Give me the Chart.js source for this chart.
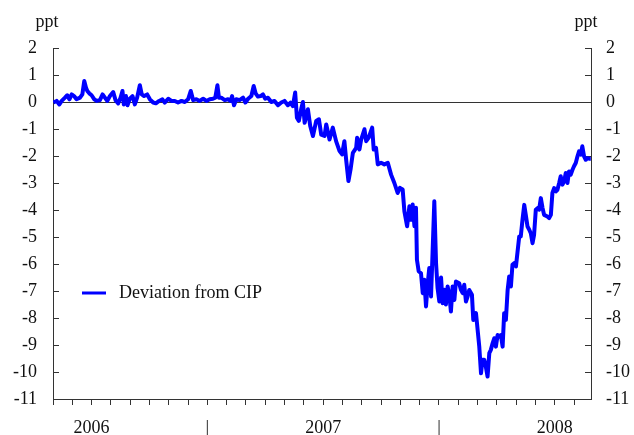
<!DOCTYPE html>
<html>
<head>
<meta charset="utf-8">
<script src="https://cdn.jsdelivr.net/npm/chart.js@4.4.1/dist/chart.umd.min.js"></script>
<style>
  html, body { margin: 0; padding: 0; background: #fff; }
  #wrap { width: 634px; height: 435px; }
</style>
</head>
<body>
<div id="wrap"><canvas id="chart" width="634" height="435"></canvas></div>
<script>
// x = months since Jan 2006 (0 = 1 Jan 2006)
const months = [
  4.02, 4.19, 4.33, 4.45, 4.62, 4.74, 4.85, 4.97, 5.09, 5.22, 5.40, 5.52, 5.62, 5.71, 5.78,
  5.88, 6.00, 6.14, 6.26, 6.43, 6.57, 6.69, 6.81, 6.95, 7.12, 7.24, 7.38, 7.50, 7.60, 7.67,
  7.78, 7.86, 7.98, 8.12, 8.24, 8.36, 8.50, 8.60, 8.72, 8.88, 9.02, 9.19, 9.33, 9.50, 9.67,
  9.79, 9.97, 10.14, 10.31, 10.48, 10.66, 10.83, 11.00, 11.14, 11.26, 11.43, 11.60, 11.78,
  11.95, 12.12, 12.29, 12.41, 12.52, 12.60, 12.72, 12.90, 13.07, 13.21, 13.28, 13.38, 13.50,
  13.67, 13.85, 13.97, 14.11, 14.28, 14.40, 14.50, 14.62, 14.76, 14.88, 15.00, 15.14, 15.31,
  15.48, 15.66, 15.83, 16.00, 16.17, 16.31, 16.43, 16.55,
  16.64, 16.74, 16.86, 16.95, 17.04, 17.21, 17.33, 17.47, 17.64, 17.78, 17.90,
  18.07, 18.16, 18.33, 18.50, 18.67, 18.85, 18.98, 19.10, 19.19, 19.31, 19.42, 19.54, 19.71,
  19.76, 19.88, 19.97, 20.14, 20.23, 20.36, 20.54, 20.62, 20.74, 20.83, 21.00, 21.17, 21.35,
  21.52, 21.69, 21.86, 21.98, 22.12, 22.21, 22.35, 22.47, 22.55, 22.64, 22.73, 22.81, 22.86,
  22.95, 23.07, 23.16, 23.24, 23.33, 23.42, 23.50, 23.59, 23.67, 23.76,
  23.85, 23.93, 24.02, 24.11, 24.19, 24.28, 24.36, 24.45, 24.54, 24.62, 24.71, 24.80, 24.88,
  25.05, 25.14, 25.23, 25.31, 25.40, 25.49, 25.57, 25.71, 25.78, 25.92, 26.09, 26.18, 26.26,
  26.35, 26.43, 26.52, 26.61, 26.69, 26.78, 26.87, 26.95, 27.04, 27.12, 27.21, 27.30, 27.38,
  27.47, 27.56, 27.64, 27.73, 27.81, 27.90, 27.99, 28.16, 28.24, 28.33, 28.42, 28.50, 28.59,
  28.68, 28.76, 28.85, 28.93, 29.02, 29.11, 29.19, 29.28, 29.37, 29.45, 29.62, 29.71, 29.80,
  29.88, 29.97, 30.06, 30.14, 30.23, 30.31, 30.40, 30.49, 30.57, 30.66, 30.74, 30.83, 30.92,
  31.00, 31.09, 31.18, 31.26, 31.35, 31.43, 31.52, 31.61, 31.69, 31.78, 31.87
];

const deviation = [
  -0.02, 0.04, -0.09, 0.04, 0.16, 0.25, 0.1, 0.28, 0.22, 0.1, 0.16, 0.28, 0.78, 0.53, 0.41,
  0.32, 0.25, 0.1, 0.04, 0.07, 0.28, 0.16, 0.04, 0.22, 0.37, 0.07, -0.05, 0.16, 0.41, -0.09,
  0.22, -0.12, 0.12, 0.22, -0.09, 0.16, 0.62, 0.28, 0.22, 0.28, 0.1, -0.02, -0.05, 0.04, 0.1,
  -0.02, 0.12, 0.04, 0.04, -0.02, 0.04, 0.0, 0.1, 0.41, 0.07, 0.1, 0.04, 0.12,
  0.04, 0.1, 0.12, 0.16, 0.62, 0.16, 0.16, 0.07, 0.1, 0.04, 0.22, -0.12, 0.1,
  0.07, 0.16, -0.02, 0.12, 0.22, 0.59, 0.32, 0.2, 0.22, 0.28, 0.12, 0.16, 0.0,
  0.04, -0.12, -0.02, 0.04, -0.12, -0.02, -0.15, 0.35,
  -0.58, -0.7, -0.27, 0.0, -0.77, -0.27, -0.89, -1.26, -0.7, -0.64, -1.21,
  -1.26, -0.83, -1.39, -0.95, -1.45, -1.82, -1.94, -1.45, -2.13, -2.93, -2.5, -1.88, -1.7,
  -1.32, -1.76, -1.39, -1.01, -1.45, -1.32, -0.95, -1.76, -1.7, -2.31, -2.25, -2.31, -2.25,
  -2.69, -3.0, -3.37, -3.18, -3.24, -4.05, -4.6, -3.86, -4.36, -3.8, -4.6, -3.92, -5.84,
  -6.27, -6.34, -7.08, -6.58, -7.57, -6.71, -6.15, -7.2, -5.59, -3.68,
  -5.97, -6.9, -7.39, -6.5, -7.45, -6.95, -7.5, -6.83, -7.15, -7.76, -6.83, -7.33, -6.65,
  -6.71, -6.96, -7.08, -6.77, -7.39, -7.2, -6.96, -7.14, -8.07, -7.82, -9.06, -10.05, -9.55,
  -9.55, -9.8, -10.17, -9.3, -9.18, -8.94, -8.75, -9.06, -8.63, -8.69, -8.63, -9.06, -7.82,
  -8.07, -6.96, -6.46, -6.83, -6.03, -5.97, -6.09, -4.98, -4.98, -4.36, -3.81, -4.18, -4.61,
  -4.73, -4.86, -5.23, -4.92, -3.99, -3.93, -3.99, -3.56, -3.93, -4.18, -4.24, -4.3, -4.18,
  -3.37, -3.19, -3.31, -3.25, -3.0, -2.75, -3.06, -2.94, -2.63, -3.0, -2.57, -2.69, -2.51,
  -2.38, -2.26, -2.01, -1.83, -1.95, -1.64, -2.01, -2.14, -2.08, -2.1, -2.1
];

const yearLabels = ['2006', '2007', '2008'];
const yearMidMonths = [6, 18, 30];
const yearStartMonths = [12, 24];
const xMin = 4, xMax = 31.88;
const yMin = -11, yMax = 2;

const FONT = "'Liberation Serif', 'Times New Roman', serif";
const INK = '#111';
const AXIS = '#333';

// zero line + inward ticks on both value axes, under the series
const frame = {
  id: 'frame',
  beforeDatasetsDraw(chart) {
    const { ctx, chartArea, scales } = chart;
    const y = scales.y;
    ctx.save();
    ctx.strokeStyle = AXIS;
    ctx.lineWidth = 1;
    const z = Math.round(y.getPixelForValue(0)) + 0.5;
    ctx.beginPath();
    ctx.moveTo(chartArea.left, z);
    ctx.lineTo(chartArea.right, z);
    y.ticks.forEach(t => {
      const py = Math.round(y.getPixelForValue(t.value)) + 0.5;
      ctx.moveTo(chartArea.left, py);
      ctx.lineTo(chartArea.left + 6, py);
      ctx.moveTo(chartArea.right, py);
      ctx.lineTo(chartArea.right - 6, py);
    });
    ctx.stroke();
    ctx.restore();
  },
  afterDraw(chart) {
    const { ctx, chartArea } = chart;
    ctx.save();
    ctx.fillStyle = INK;
    ctx.font = '18px ' + FONT;
    ctx.textAlign = 'center';
    ctx.textBaseline = 'middle';
    ctx.fillText('ppt', chartArea.left - 6, 22);
    ctx.fillText('ppt', chartArea.right - 5, 22);

    // legend
    const ds = chart.data.datasets[0];
    const ly = chartArea.top + 245;
    ctx.strokeStyle = ds.borderColor;
    ctx.lineWidth = 3;
    ctx.beginPath();
    ctx.moveTo(chartArea.left + 29, ly);
    ctx.lineTo(chartArea.left + 53, ly);
    ctx.stroke();
    ctx.textAlign = 'left';
    ctx.fillText(ds.label, chartArea.left + 66, ly);
    ctx.restore();
  }
};

const points = months.map((m, i) => ({ x: m, y: deviation[i] }));

new Chart(document.getElementById('chart'), {
  type: 'line',
  data: {
    datasets: [{
      label: 'Deviation from CIP',
      data: points,
      borderColor: '#0000ff',
      borderWidth: 4,
      pointRadius: 0,
      tension: 0,
      borderJoinStyle: 'round',
      yAxisID: 'y'
    }]
  },
  options: {
    responsive: false,
    animation: false,
    layout: { padding: { top: 48, left: 0, right: 0, bottom: 0 } },
    plugins: { legend: { display: false }, tooltip: { enabled: false } },
    scales: {
      x: {
        type: 'linear',
        min: xMin,
        max: xMax,
        afterBuildTicks(scale) {
          const t = [];
          for (let m = 4; m <= 31; m++) t.push({ value: m });
          scale.ticks = t;
        },
        afterFit(scale) { scale.height = 36; },
        grid: { drawOnChartArea: false, drawTicks: true, tickLength: 6, color: AXIS },
        border: { display: true, color: AXIS, width: 1 },
        ticks: {
          autoSkip: false,
          maxRotation: 0,
          padding: 12,
          color: INK,
          font: { family: FONT, size: 18 },
          callback(v) {
            const i = yearMidMonths.indexOf(v);
            if (i >= 0) return yearLabels[i];
            if (yearStartMonths.includes(v)) return '|';
            return '';
          }
        }
      },
      y: {
        position: 'left',
        min: yMin,
        max: yMax,
        afterFit(scale) { scale.width = 53; },
        grid: { drawOnChartArea: false, drawTicks: false },
        border: { display: true, color: AXIS, width: 1 },
        ticks: { stepSize: 1, padding: 16, color: INK, font: { family: FONT, size: 18 } }
      },
      y2: {
        position: 'right',
        min: yMin,
        max: yMax,
        afterFit(scale) { scale.width = 43; },
        grid: { drawOnChartArea: false, drawTicks: false },
        border: { display: true, color: AXIS, width: 1 },
        ticks: { stepSize: 1, padding: 15, color: INK, font: { family: FONT, size: 18 } }
      }
    }
  },
  plugins: [frame]
});
</script>
</body>
</html>
